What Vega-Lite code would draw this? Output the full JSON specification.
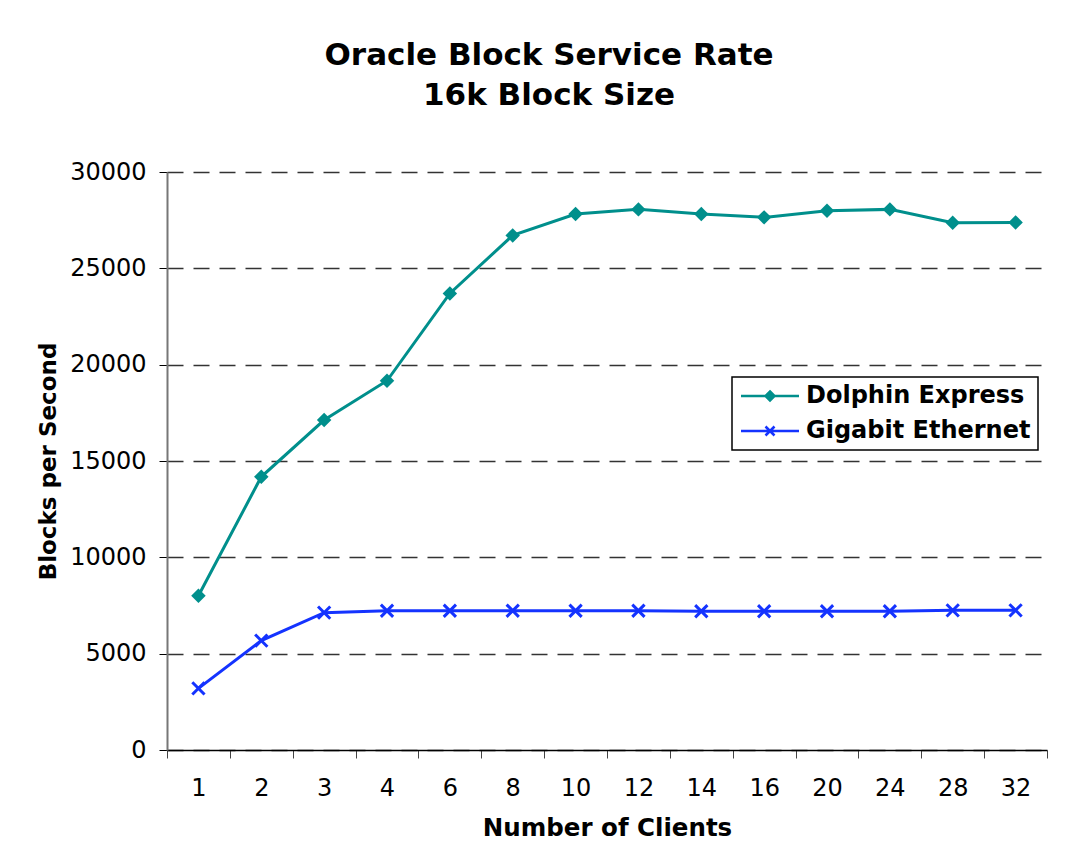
{
  "$schema": "https://vega.github.io/schema/vega-lite/v6.json",
  "width": 880,
  "height": 578,
  "autosize": "none",
  "padding": {"left": 167, "top": 172, "right": 33, "bottom": 113},
  "background": "white",
  "config": {"view": {"stroke": null}},
  "title": {
    "text": ["Oracle Block Service Rate", "16k Block Size"],
    "font": "DejaVu Sans",
    "fontSize": 31,
    "fontWeight": "bold",
    "color": "black",
    "anchor": "middle",
    "frame": "group",
    "dx": -58,
    "lineHeight": 40,
    "offset": 48
  },
  "data": {
    "values": [
      {"clients": "1", "series": "Dolphin Express", "value": 8010},
      {"clients": "2", "series": "Dolphin Express", "value": 14180},
      {"clients": "3", "series": "Dolphin Express", "value": 17125},
      {"clients": "4", "series": "Dolphin Express", "value": 19165},
      {"clients": "6", "series": "Dolphin Express", "value": 23700},
      {"clients": "8", "series": "Dolphin Express", "value": 26710},
      {"clients": "10", "series": "Dolphin Express", "value": 27815},
      {"clients": "12", "series": "Dolphin Express", "value": 28060},
      {"clients": "14", "series": "Dolphin Express", "value": 27815},
      {"clients": "16", "series": "Dolphin Express", "value": 27645},
      {"clients": "20", "series": "Dolphin Express", "value": 27990},
      {"clients": "24", "series": "Dolphin Express", "value": 28060},
      {"clients": "28", "series": "Dolphin Express", "value": 27365},
      {"clients": "32", "series": "Dolphin Express", "value": 27385},
      {"clients": "1", "series": "Gigabit Ethernet", "value": 3200},
      {"clients": "2", "series": "Gigabit Ethernet", "value": 5680},
      {"clients": "3", "series": "Gigabit Ethernet", "value": 7130},
      {"clients": "4", "series": "Gigabit Ethernet", "value": 7230},
      {"clients": "6", "series": "Gigabit Ethernet", "value": 7230},
      {"clients": "8", "series": "Gigabit Ethernet", "value": 7230},
      {"clients": "10", "series": "Gigabit Ethernet", "value": 7230},
      {"clients": "12", "series": "Gigabit Ethernet", "value": 7230},
      {"clients": "14", "series": "Gigabit Ethernet", "value": 7200},
      {"clients": "16", "series": "Gigabit Ethernet", "value": 7200},
      {"clients": "20", "series": "Gigabit Ethernet", "value": 7200},
      {"clients": "24", "series": "Gigabit Ethernet", "value": 7200},
      {"clients": "28", "series": "Gigabit Ethernet", "value": 7250},
      {"clients": "32", "series": "Gigabit Ethernet", "value": 7250}
    ]
  },
  "encoding": {
    "x": {
      "field": "clients",
      "type": "ordinal",
      "sort": null,
      "bandPosition": 0.5,
      "scale": {"type": "band", "paddingInner": 0, "paddingOuter": 0},
      "axis": {
        "title": "Number of Clients",
        "titleFont": "DejaVu Sans",
        "titleFontSize": 24.5,
        "titleFontWeight": "bold",
        "titleColor": "black",
        "titlePadding": 16,
        "labelFont": "DejaVu Sans",
        "labelFontSize": 24,
        "labelColor": "black",
        "labelAngle": 0,
        "labelPadding": 18,
        "tickBand": "extent",
        "tickSize": 8,
        "tickColor": "#444",
        "tickWidth": 1,
        "domainColor": "black",
        "domainWidth": 1.5,
        "grid": false
      }
    },
    "y": {
      "field": "value",
      "type": "quantitative",
      "scale": {"domain": [0, 30000], "nice": false},
      "axis": {
        "title": "Blocks per Second",
        "titleFont": "DejaVu Sans",
        "titleFontSize": 23,
        "titleFontWeight": "bold",
        "titleColor": "black",
        "titlePadding": 9,
        "labelFont": "DejaVu Sans",
        "labelFontSize": 24,
        "labelColor": "black",
        "labelPadding": 13,
        "values": [0, 5000, 10000, 15000, 20000, 25000, 30000],
        "format": "d",
        "tickSize": 8,
        "tickColor": "black",
        "tickWidth": 1,
        "domainColor": "#777",
        "domainWidth": 2,
        "grid": true,
        "gridColor": "#333",
        "gridDash": [16, 10],
        "gridWidth": 1.5
      }
    },
    "color": {
      "field": "series",
      "type": "nominal",
      "scale": {"domain": ["Dolphin Express", "Gigabit Ethernet"], "range": ["#008F8C", "#1433FF"]},
      "legend": {
        "orient": "none",
        "legendX": 565,
        "legendY": 205,
        "title": null,
        "direction": "vertical",
        "strokeColor": "black",
        "fillColor": "white",
        "padding": 7,
        "labelFont": "DejaVu Sans",
        "labelFontSize": 24,
        "labelFontWeight": "bold",
        "labelColor": "black",
        "labelLimit": 500,
        "labelOffset": 43,
        "rowPadding": 11,
        "symbolSize": 400,
        "encode": {
          "legend": {"update": {"strokeWidth": {"value": 1.5}}},
          "symbols": {
            "update": {
              "shape": {"signal": "datum.value === 'Dolphin Express' ? 'M-1,0H4.8M1.9,-0.45L2.35,0L1.9,0.45L1.45,0Z' : 'M-1,0H4.8M1.45,-0.45L2.35,0.45M1.45,0.45L2.35,-0.45'"},
              "fill": {"signal": "datum.value === 'Dolphin Express' ? '#008F8C' : 'transparent'"},
              "stroke": {"signal": "datum.value === 'Dolphin Express' ? '#008F8C' : '#1433FF'"},
              "strokeWidth": {"value": 2.5},
              "size": {"value": 400},
              "opacity": {"value": 1}
            }
          }
        }
      }
    }
  },
  "layer": [
    {"mark": {"type": "line", "strokeWidth": 3}},
    {
      "transform": [{"filter": "datum.series === 'Dolphin Express'"}],
      "mark": {"type": "point", "shape": "diamond", "filled": true, "size": 210, "opacity": 1}
    },
    {
      "transform": [{"filter": "datum.series === 'Gigabit Ethernet'"}],
      "mark": {"type": "point", "shape": "M-1,-1L1,1M-1,1L1,-1", "filled": false, "size": 150, "strokeWidth": 3, "opacity": 1}
    }
  ]
}
